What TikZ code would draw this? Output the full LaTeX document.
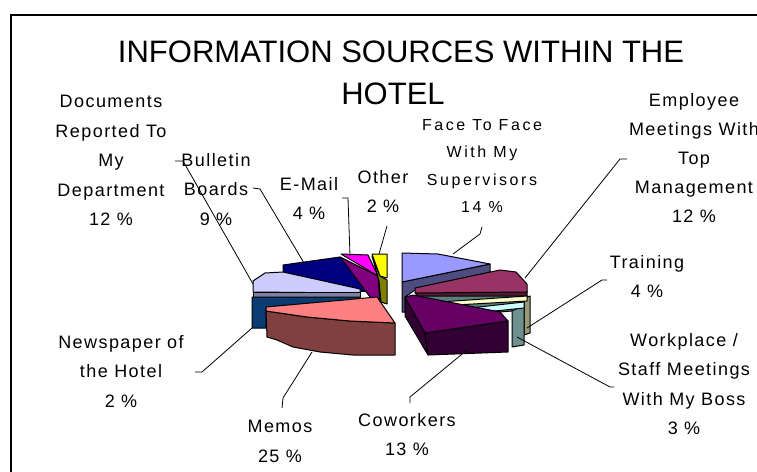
\documentclass[tikz,border=0pt]{standalone}
\usepackage{fontspec}
\setmainfont{Liberation Sans}
\newfontfamily\lblfont[LetterSpace=8]{Liberation Sans}
\newfontfamily\widefont[LetterSpace=16]{Liberation Sans}
\definecolor{navytop}{HTML}{000080}
\definecolor{navyside}{HTML}{000050}
\definecolor{mailtop}{HTML}{FF00FF}
\definecolor{mailside}{HTML}{800080}
\definecolor{othertop}{HTML}{FFFF00}
\definecolor{otherside}{HTML}{808000}
\definecolor{doctop}{HTML}{CCCCFF}
\definecolor{docside}{HTML}{7F7F9F}
\definecolor{newsside}{HTML}{0A3C73}
\definecolor{memotop}{HTML}{FF8080}
\definecolor{memoside}{HTML}{804040}
\definecolor{facetop}{HTML}{9999FF}
\definecolor{faceside}{HTML}{4D4D80}
\definecolor{emptop}{HTML}{993366}
\definecolor{empside}{HTML}{4D1A33}
\definecolor{layerside}{HTML}{5F7F7F}
\definecolor{traintop}{HTML}{FFFFCC}
\definecolor{trainside}{HTML}{999977}
\definecolor{worktop}{HTML}{CCFFFF}
\definecolor{workside}{HTML}{6E9090}
\definecolor{cowtop}{HTML}{660066}
\definecolor{cowside}{HTML}{330033}
\begin{document}
\begin{tikzpicture}[x=1pt,y=-1pt,
  lbl/.style={align=center,anchor=north,inner sep=0pt,font=\lblfont\fontsize{18}{29.5}\selectfont},
  slice/.style={draw=black,line width=1pt,line join=round},
  lead/.style={draw=black,line width=0.8pt}]
\useasboundingbox (0,0) rectangle (757,471);
\draw[line width=2pt] (11,500) |- (790,15);

% title
\node[inner sep=0pt,font=\fontsize{31}{42}\selectfont] (title) at (401,52) {INFORMATION SOURCES WITHIN THE};
\node[inner sep=0pt,font=\fontsize{31}{42}\selectfont] (hotel) at (393,94) {HOTEL};

% left half of the pie
\filldraw[slice,fill=navytop] (283,273) -- (283,265) -- (340,257) -- (379,279) -- (372,292) -- (300,287) -- cycle;
\filldraw[slice,fill=navyside] (372,292) -- (379,279) -- (381,304) -- (372,304) -- cycle;
\filldraw[slice,fill=mailside] (340,257) -- (378,276) -- (380,304) -- (373,301) -- cycle;
\filldraw[slice,fill=mailtop] (341,254) -- (368,255) -- (378,276) -- cycle;
\filldraw[slice,fill=otherside] (372,256) -- (380,276) -- (387,280) -- (387,304) -- (381,302) -- (379,281) -- cycle;
\filldraw[slice,fill=othertop] (372,254) -- (387,254) -- (387,278) -- (380,276) -- cycle;
\filldraw[slice,fill=doctop] (253,281) -- (265,273) -- (283,272) -- (360,289) -- (360,293) -- (253,292) -- cycle;
\filldraw[slice,fill=docside] (253,292) -- (360,292) -- (360,297) -- (253,297) -- cycle;
\filldraw[slice,fill=newsside] (252,297) -- (360,297) -- (360,301) -- (300,305) -- (266,308) -- (266,328) -- (252,328) -- cycle;
\filldraw[slice,fill=memoside] (266,311) -- (307,317) -- (350,321) -- (395,323) -- (395,355) -- (353,355) -- (320,352) -- (293,347) -- (277,340) -- (267,337) -- cycle;
\filldraw[slice,fill=memotop] (266,307) -- (377,297) -- (395,323) -- (350,321) -- (307,317) -- (266,311) -- cycle;

% right half of the pie
\filldraw[slice,fill=faceside] (402,282) -- (490,264) -- (490,272) -- (415,290) -- (405,297) -- (405,312) -- (402,312) -- cycle;
\filldraw[slice,fill=facetop] (402,253) -- (438,254) -- (490,264) -- (402,282) -- cycle;
\filldraw[slice,fill=empside] (415,292) -- (527,291) -- (527,297) -- (418,298) -- cycle;
\filldraw[slice,fill=emptop] (415,288) -- (500,270) -- (516,272) -- (527,284) -- (527,292) -- (415,293) -- cycle;
\filldraw[slice,fill=layerside] (412,296) -- (527,296) -- (524,310) -- (500,312) -- cycle;
\filldraw[slice,fill=trainside] (524,298) -- (530,296) -- (530,333) -- (524,335) -- cycle;
\filldraw[slice,fill=traintop] (440,302) -- (527,296) -- (527,301) -- (455,305) -- cycle;
\filldraw[slice,fill=workside] (512,311) -- (524,305) -- (524,345) -- (512,347) -- cycle;
\filldraw[slice,fill=worktop] (470,308) -- (524,302) -- (524,308) -- (485,312) -- cycle;
\filldraw[slice,fill=cowside] (405,297) -- (425,333) -- (428,355) -- (405,316) -- cycle;
\filldraw[slice,fill=cowside] (425,333) -- (508,321) -- (508,352) -- (428,355) -- cycle;
\filldraw[slice,fill=cowtop] (405,297) -- (413,295) -- (500,312) -- (508,321) -- (425,333) -- cycle;

% labels
\node[lbl] (docs) at (111,95) {Documents\\Reported To\\My\\Department\\12 \%};
\node[lbl] (board) at (216,153) {Bulletin\\Boards\\9 \%};
\node[lbl] (mail) at (309,177) {E-Mail\\4 \%};
\node[lbl] (other) at (383,170) {Other\\2 \%};
\node[lbl,font=\widefont\fontsize{16}{27.5}\selectfont] (face) at (482,119) {Face To Face\\With My\\Supervisors\\14 \%};
\node[lbl,font=\lblfont\fontsize{18}{29}\selectfont] (emp) at (694,93) {Employee\\Meetings With\\Top\\Management\\12 \%};
\node[lbl] (train) at (647,255) {Training\\4 \%};
\node[lbl] (work) at (684,333) {Workplace /\\Staff Meetings\\With My Boss\\3 \%};
\node[lbl] (cow) at (407,413) {Coworkers\\13 \%};
\node[lbl] (memo) at (280,420) {Memos\\25 \%};
\node[lbl] (news) at (121,335) {Newspaper of\\the Hotel\\2 \%};

% leader lines
\coordinate (docA) at (175,161); \coordinate (docB) at (183,161); \coordinate (docP) at (253,284);
\coordinate (boardA) at (253,188); \coordinate (boardB) at (260,189); \coordinate (boardP) at (304,263);
\coordinate (mailA) at (342,198); \coordinate (mailB) at (348,198); \coordinate (mailP) at (350,256);
\coordinate (otherA) at (387,226); \coordinate (otherP) at (379,254);
\coordinate (faceA) at (482,227); \coordinate (faceB) at (480,234); \coordinate (faceP) at (453,254);
\coordinate (empA) at (627,159); \coordinate (empB) at (620,159); \coordinate (empP) at (525,278);
\coordinate (trainA) at (607,280); \coordinate (trainB) at (602,280); \coordinate (trainP) at (527,328);
\coordinate (workA) at (614,387); \coordinate (workB) at (610,387); \coordinate (workP) at (517,337);
\coordinate (cowA) at (410,403); \coordinate (cowB) at (410,397); \coordinate (cowP) at (467,350);
\coordinate (memoA) at (282,408); \coordinate (memoB) at (283,398); \coordinate (memoP) at (312,352);
\coordinate (newsA) at (195,372); \coordinate (newsB) at (202,372); \coordinate (newsP) at (252,328);
\foreach \n in {doc,board,mail,face,emp,train,work,cow,memo,news}
  \draw[lead] (\n A) -- (\n B) -- (\n P);
\draw[lead] (otherA) -- (otherP);
\end{tikzpicture}
\end{document}
